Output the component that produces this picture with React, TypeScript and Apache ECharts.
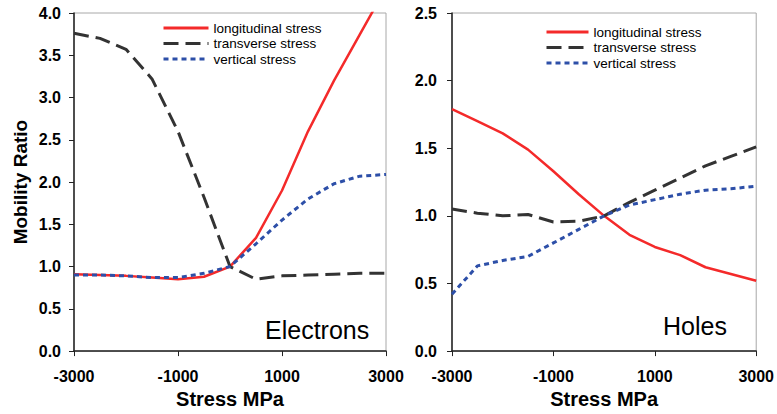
import React, { useEffect, useRef } from "react";
import * as echarts from "echarts";

const stress = [-3000, -2500, -2000, -1500, -1000, -500, 0, 500, 1000, 1500, 2000, 2500, 3000];
const xTicks = [-3000, -1000, 1000, 3000];

const elecLong = [0.91, 0.9, 0.89, 0.87, 0.85, 0.88, 1.0, 1.34, 1.9, 2.6, 3.2, 3.75, 4.3];
const elecTrans = [3.76, 3.7, 3.57, 3.22, 2.6, 1.82, 1.0, 0.85, 0.89, 0.9, 0.91, 0.92, 0.92];
const elecVert = [0.9, 0.9, 0.89, 0.87, 0.87, 0.92, 1.0, 1.27, 1.55, 1.8, 1.98, 2.07, 2.09];

const holeLong = [1.79, 1.7, 1.61, 1.49, 1.33, 1.16, 1.0, 0.86, 0.77, 0.71, 0.62, 0.57, 0.52];
const holeTrans = [1.05, 1.02, 1.0, 1.01, 0.955, 0.96, 1.0, 1.1, 1.19, 1.28, 1.37, 1.44, 1.51];
const holeVert = [0.42, 0.63, 0.67, 0.7, 0.8, 0.9, 1.0, 1.08, 1.12, 1.16, 1.19, 1.2, 1.22];

const names = ["longitudinal stress", "transverse stress", "vertical stress"];
const FONT = "'Liberation Sans', Arial, sans-serif";

const pair = (ys: number[]) => stress.map((x, i) => [x, ys[i]]);

export default function App() {
  const ref = useRef<HTMLDivElement>(null);
  useEffect(() => {
    if (!ref.current) return;
    const chart = echarts.init(ref.current, null, { renderer: "svg" });
    const styles = [
      { color: "#f42a2a", width: 2.5, type: "solid" as any },
      { color: "#333333", width: 3, type: [15, 7] as any },
      { color: "#2d4fa8", width: 3, type: [5, 4] as any },
    ];
    const xAxis = (gi: number) => ({
      type: "value",
      gridIndex: gi,
      min: -3000,
      max: 3000,
      splitLine: { show: false },
      axisLine: { show: true, onZero: false, lineStyle: { color: "#222", width: 1.5 } },
      axisTick: { show: true, length: 5, customValues: xTicks, lineStyle: { color: "#222", width: 1 } },
      axisLabel: {
        customValues: xTicks,
        formatter: (v: number) => String(v),
        margin: 17,
        fontFamily: FONT,
        fontWeight: "bold",
        fontSize: 16,
        color: "#000",
      },
      name: "Stress MPa",
      nameLocation: "middle",
      nameGap: 34,
      nameTextStyle: { fontFamily: FONT, fontWeight: "bold", fontSize: 20, color: "#000" },
    });
    const yAxis = (gi: number, max: number, margin: number, name?: string) => ({
      type: "value",
      gridIndex: gi,
      min: 0,
      max,
      interval: 0.5,
      splitLine: { show: false },
      axisLine: { show: true, onZero: false, lineStyle: { color: "#222", width: 1.5 } },
      axisTick: { show: true, length: 5, lineStyle: { color: "#222", width: 1 } },
      axisLabel: {
        margin,
        formatter: (v: number) => v.toFixed(1),
        fontFamily: FONT,
        fontWeight: "bold",
        fontSize: 16,
        color: "#000",
      },
      name: name || "",
      nameLocation: "middle",
      nameGap: 44,
      nameTextStyle: { fontFamily: FONT, fontWeight: "bold", fontSize: 19, color: "#000" },
    });
    const series: any[] = [];
    const sets = [
      [elecLong, elecTrans, elecVert],
      [holeLong, holeTrans, holeVert],
    ];
    sets.forEach((set, gi) => {
      set.forEach((ys, si) => {
        series.push({
          type: "line",
          name: names[si],
          xAxisIndex: gi,
          yAxisIndex: gi,
          data: pair(ys),
          symbol: "none",
          clip: true,
          lineStyle: styles[si],
          itemStyle: { color: styles[si].color },
        });
      });
    });
    const legend = (left: number, top: number, w: number) => ({
      left,
      top,
      orient: "vertical",
      padding: 0,
      itemWidth: w,
      itemHeight: 14,
      itemGap: 1.5,
      data: names,
      itemStyle: { opacity: 0, borderWidth: 0 },
      lineStyle: { width: 3 },
      textStyle: { fontFamily: FONT, fontSize: 13.5, color: "#000" },
    });
    chart.setOption({
      animation: false,
      backgroundColor: "#fff",
      grid: [
        { left: 74, top: 13, width: 312, height: 344, show: true, borderColor: "#a8a8a8", borderWidth: 1, backgroundColor: "transparent" },
        { left: 452, top: 13, width: 305, height: 343, show: true, borderColor: "#a8a8a8", borderWidth: 1, backgroundColor: "transparent" },
      ],
      xAxis: [xAxis(0), xAxis(1)],
      yAxis: [yAxis(0, 4, 13, "Mobility Ratio"), yAxis(1, 2.5, 15)],
      legend: [legend(162, 21, 45), legend(545, 25, 42)],
      series,
      graphic: [
        {
          type: "text",
          x: 265,
          y: 329.5,
          style: { text: "Electrons", font: `25px ${FONT}`, fill: "#000", verticalAlign: "middle", align: "left" },
        },
        {
          type: "text",
          x: 663,
          y: 325.5,
          style: { text: "Holes", font: `25px ${FONT}`, fill: "#000", verticalAlign: "middle", align: "left" },
        },
      ],
    });
    return () => chart.dispose();
  }, []);
  return <div ref={ref} style={{ position: "fixed", left: 0, top: 0, width: 777, height: 414 }} />;
}
